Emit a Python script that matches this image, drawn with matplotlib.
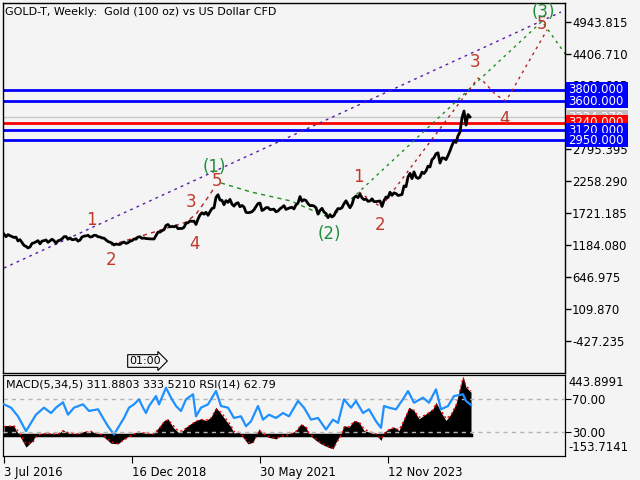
import matplotlib
matplotlib.use("Agg")
import matplotlib.pyplot as plt
import matplotlib.transforms as mtransforms
from matplotlib.patches import Rectangle
import numpy as np

# ---------------- data ----------------
title = "GOLD-T, Weekly:  Gold (100 oz) vs US Dollar CFD"
sub_title = "MACD(5,34,5) 311.8803 333.5210 RSI(14) 62.79"

# bi-weekly closes, starting 3 Jul 2016 (week 0)
close_2016 = [1366, 1323, 1358, 1340, 1326, 1310, 1316, 1252, 1273, 1226, 1177, 1160, 1133]
close_2017 = [1151, 1210, 1220, 1237, 1257, 1203, 1249, 1256, 1268, 1228, 1254, 1280, 1256,
              1212, 1254, 1264, 1285, 1323, 1326, 1280, 1303, 1273, 1275, 1288, 1248, 1266]
close_2018 = [1318, 1333, 1337, 1347, 1318, 1323, 1347, 1345, 1323, 1318, 1302, 1298, 1270,
              1241, 1231, 1214, 1184, 1200, 1194, 1192, 1218, 1234, 1210, 1222, 1248, 1256]
close_2019 = [1285, 1282, 1318, 1322, 1295, 1302, 1292, 1290, 1286, 1286, 1284, 1341, 1400,
              1400, 1426, 1440, 1513, 1529, 1488, 1497, 1489, 1505, 1458, 1463, 1460, 1480]
close_2020 = [1552, 1557, 1589, 1582, 1585, 1529, 1620, 1690, 1727, 1702, 1734, 1683, 1745,
              1799, 1810, 1985, 2030, 1940, 1935, 1862, 1930, 1902, 1951, 1871, 1838, 1881, 1895]
close_2021 = [1828, 1849, 1823, 1734, 1727, 1732, 1744, 1777, 1831, 1881, 1890, 1764, 1783,
              1812, 1814, 1780, 1782, 1787, 1743, 1757, 1793, 1818, 1846, 1783, 1798, 1811]
close_2022 = [1817, 1791, 1859, 1888, 2000, 1922, 1946, 1932, 1880, 1846, 1850, 1840, 1811,
              1703, 1766, 1801, 1738, 1715, 1643, 1695, 1656, 1680, 1750, 1797, 1792, 1812]
close_2023 = [1880, 1928, 1865, 1811, 1868, 1978, 2007, 1982, 2040, 1977, 1948, 1958, 1919,
              1925, 1961, 1914, 1914, 1920, 1925, 1833, 1932, 1992, 1981, 2072, 2019, 2062]
close_2024 = [2049, 2018, 2024, 2035, 2178, 2165, 2329, 2390, 2301, 2414, 2327, 2305, 2326,
              2411, 2387, 2431, 2512, 2497, 2622, 2653, 2720, 2736, 2563, 2650, 2648, 2621]
close_2025 = [2690, 2770, 2861, 2935, 2910, 3022, 3085, 3325, 3440, 3203, 3380, 3340]

price_ticks = [4943.815, 4406.710, 3869.605, 3332.500, 2795.395, 2258.290,
               1721.185, 1184.080, 646.975, 109.870, -427.235]
blue_levels = [3800.0, 3600.0, 3120.0, 2950.0]
red_level = 3240.0
last_price = 3334.270

date_ticks = [0, 128, 256, 384]
date_labels = ["3 Jul 2016", "16 Dec 2018", "30 May 2021", "12 Nov 2023"]

# wave labels: text, week, price, kind
wave_labels = [
    ("1", 87, 1604, "r"), ("2", 107, 930, "r"), ("3", 187, 1904, "r"),
    ("4", 191, 1197, "r"), ("5", 213, 2260, "r"), ("(1)", 210, 2496, "g"),
    ("(2)", 325, 1366, "g"), ("1", 354, 2327, "r"), ("2", 376, 1519, "r"),
    ("3", 471, 4265, "r"), ("4", 501, 3303, "r"), ("5", 538, 4905, "r"),
    ("(3)", 539, 5107, "g"),
]
channel_w = [0, 557]
channel_p = [796, 5107]
wave1_w = [107, 147, 182, 192, 202, 210]
wave1_p = [1183, 1385, 1568, 1702, 1938, 2140]
corr2_w = [217, 247, 287, 319, 327]
corr2_p = [2228, 2076, 1924, 1688, 1638]
wave3_w = [327, 538, 562]
wave3_p = [1638, 4950, 4383]
sub3_w = [355, 377, 474, 480, 492, 502, 543]
sub3_p = [2076, 1821, 3995, 3928, 3709, 3608, 4804]

macd_w = [0, 10, 12, 15, 22, 29, 32, 37, 42, 49, 54, 59, 64, 72, 80, 87, 95, 100, 107, 114,
          120, 127, 134, 140, 149, 155, 160, 164, 169, 174, 179, 182, 189, 192, 197, 202, 207, 212, 217, 222,
          227, 230, 235, 239, 244, 249, 252, 255, 259, 264, 272, 277, 285, 292, 297, 302, 305, 312, 317, 324,
          329, 332, 337, 340, 345, 350, 355, 360, 365, 372, 377, 380, 385, 390, 395, 400, 405, 410, 415, 422,
          429, 432, 437, 442, 447, 452, 457, 459, 462, 467]
macd_v = [68, 68, 30, 0, -96, -45, 0, 5, 10, 0, 5, 35, 10, 0, 23, 25, 0, -20, -66, -71,
          -33, 0, 23, 10, 0, 56, 106, 119, 56, 18, 30, 56, 94, 106, 119, 106, 132, 207, 157, 106,
          56, 10, 18, -20, -71, -58, -8, 43, 0, -20, -33, -8, 0, 30, 81, 56, 0, -45, -71, -96,
          -109, -58, 5, 68, 56, 106, 94, 30, 18, 0, -45, 18, 43, 56, 30, 119, 207, 182, 119, 157,
          195, 245, 170, 106, 157, 233, 385, 443, 359, 321]
macd_sig = [60, 66, 45, 15, -70, -60, -15, 3, 8, 3, 4, 28, 15, 3, 18, 24, 6, -12, -55, -68,
            -42, -8, 18, 13, 3, 45, 95, 112, 70, 28, 27, 50, 85, 100, 114, 109, 125, 190, 170, 118,
            68, 22, 16, -12, -60, -62, -20, 30, 10, -14, -30, -12, -3, 24, 72, 62, 10, -35, -65, -90,
            -105, -70, -8, 55, 58, 98, 96, 42, 22, 4, -35, 5, 38, 52, 35, 105, 190, 185, 130, 150,
            188, 235, 185, 120, 148, 222, 365, 430, 370, 330]

rsi_w = [0, 7, 14, 22, 27, 32, 40, 47, 52, 59, 64, 70, 79, 85, 94, 99, 104, 110, 115, 120,
         125, 130, 135, 139, 142, 145, 152, 155, 162, 167, 172, 177, 182, 189, 192, 197, 204, 212, 217, 224,
         230, 237, 242, 247, 254, 259, 265, 272, 279, 285, 294, 300, 307, 314, 322, 329, 334, 340, 347, 352,
         359, 365, 372, 377, 380, 385, 392, 400, 404, 410, 419, 425, 432, 437, 444, 450, 459, 462, 467]
rsi_v = [63.5, 59.5, 49, 31, 41, 51, 59.5, 53, 59.5, 66, 51, 59.5, 63.5, 55.5, 57.5, 47, 37, 27, 37, 47,
         59.5, 63.5, 69.6, 59.5, 53, 61.5, 73.6, 63.5, 83.7, 71.6, 61.5, 55.5, 69.6, 75.7, 49, 59.5, 63.5, 79.7, 61.5, 59.5,
         47, 49, 37, 43, 61.5, 45, 51, 47, 53, 49, 67.6, 59.5, 45, 47, 33, 45, 41, 69.6, 59.5, 67.6,
         53, 57.5, 43, 35, 61.5, 59.5, 57.5, 71.6, 79.7, 65.5, 71.6, 65.5, 81.7, 57.5, 61.5, 73.6, 75.7, 67.6, 62.8]

# ---------------- style ----------------
BG = "#f4f4f4"
RED_W = "#c0392b"
GREEN_W = "#1f8f3a"
plt.rcParams["font.family"] = ["DejaVu Sans"]

close = close_2016 + close_2017 + close_2018 + close_2019 + close_2020 + \
        close_2021 + close_2022 + close_2023 + close_2024 + close_2025
weeks = np.arange(len(close)) * 2

fig = plt.figure(figsize=(6.4, 4.8), dpi=100, facecolor=BG)
W, H = 640.0, 480.0
ax = fig.add_axes([3 / W, 1 - 373 / H, 562 / W, 370 / H], facecolor=BG)
axs = fig.add_axes([3 / W, 1 - 456 / H, 562 / W, 81 / H], facecolor=BG)

XMIN, XMAX = -1, 561
YMIN, YMAX = -972.1, 5258.7
ax.set_xlim(XMIN, XMAX)
ax.set_ylim(YMIN, YMAX)
dpp = (YMAX - YMIN) / 370.0  # data units per pixel

# horizontal levels
for lv in blue_levels:
    ax.axhline(lv, color="#0000ff", lw=2, zorder=2)
ax.axhline(red_level, color="#ff0000", lw=2, zorder=2)
ax.axhline(last_price, color="#c8c8c8", lw=1, zorder=1.5)

# price
ax.plot(weeks, close, color="black", lw=2.0, zorder=3)

# wave lines
ax.plot(channel_w, channel_p, color="#5a1ca8", lw=1, ls=(0, (2, 3)), zorder=2.5)
ax.plot(wave1_w, wave1_p, color="#b22222", lw=1, ls=(0, (3, 3)), zorder=2.5)
ax.plot(corr2_w, corr2_p, color="#1a8f1a", lw=1, ls=(0, (3, 3)), zorder=2.5)
ax.plot(wave3_w, wave3_p, color="#1a8f1a", lw=1, ls=(0, (2, 3)), zorder=2.5)
ax.plot(sub3_w, sub3_p, color="#b22222", lw=1, ls=(0, (2, 3)), zorder=2.5)

for txt, wk, pr, kind in wave_labels:
    ax.text(wk, pr, txt, color=RED_W if kind == "r" else GREEN_W, fontsize=12,
            ha="center", va="center", zorder=4, clip_on=False)

# right axis
ax.yaxis.tick_right()
ax.set_yticks(price_ticks)
ax.set_yticklabels([f"{t:.3f}" for t in price_ticks])
ax.tick_params(axis="y", direction="out", length=4, width=1, labelsize=8.4, pad=1)
ax.set_xticks([])
for sp in ax.spines.values():
    sp.set_linewidth(1)

# price label boxes
trans = mtransforms.blended_transform_factory(ax.transAxes, ax.transData)
bx0 = (566 - 3) / 562.0
bw = 62 / 562.0
boxes = [(last_price, "#c0c0c0"), (red_level, "#ff0000")] + [(lv, "#0000ff") for lv in blue_levels]
z = 6
for lv, col in boxes:
    ax.add_patch(Rectangle((bx0, lv - 6.5 * dpp), bw, 14 * dpp, transform=trans,
                           facecolor=col, edgecolor="none", clip_on=False, zorder=z))
    ax.text(bx0 + 2 / 562.0, lv, f"{lv:.3f}", transform=trans, color="white", fontsize=8.4,
            ha="left", va="center", clip_on=False, zorder=z + 0.5)
    z += 1

# title + clock box
fig.text(5 / W, 1 - 12 / H, title, fontsize=8, ha="left", va="center")
fig.text(129 / W, 1 - 361 / H, "01:00", fontsize=8, ha="left", va="center",
         bbox=dict(boxstyle="rarrow,pad=0.12", facecolor=BG, edgecolor="black", lw=0.8))

# ---------------- sub panel ----------------
MMIN, MMAX = -163.0, 451.5
axs.set_xlim(XMIN, XMAX)
axs.set_ylim(MMIN, MMAX)
axs.fill_between(macd_w, 0, macd_v, color="black", lw=0, zorder=2)
axs.plot([macd_w[0], macd_w[-1]], [0, 0], color="black", lw=2.5, zorder=2)
axs.plot(macd_w, macd_sig, color="#ff0000", lw=1, ls=(0, (1.5, 2)), zorder=3)
axs.set_yticks([])

axr = axs.twinx()
axr.set_xlim(XMIN, XMAX)
axr.set_ylim(0.9, 99.1)
axr.axhline(70, color="#b4b4b4", lw=1, ls=(0, (3, 3)), zorder=1)
axr.axhline(30, color="#b4b4b4", lw=1, ls=(0, (3, 3)), zorder=4)
axr.plot(rsi_w, rsi_v, color="#1e90ff", lw=1.6, zorder=3)
axr.set_yticks([70, 30])
axr.set_yticklabels(["70.00", "30.00"])
axr.tick_params(axis="y", direction="out", length=4, labelsize=8.4, pad=1)

axs.text(1 + 3 / 562.0, 0.985, "443.8991", transform=axs.transAxes, fontsize=8.4,
         ha="left", va="top")
axs.text(1 + 3 / 562.0, 0.02, "-153.7141", transform=axs.transAxes, fontsize=8.4,
         ha="left", va="bottom")
axs.text(3 / 562.0, 0.88, sub_title, transform=axs.transAxes, fontsize=8, ha="left", va="center")

axs.set_xticks(date_ticks)
axs.set_xticklabels(date_labels, ha="left")
axs.tick_params(axis="x", direction="out", length=5, labelsize=8.4, pad=2)

fig.savefig("out.png", dpi=100, facecolor=BG)
